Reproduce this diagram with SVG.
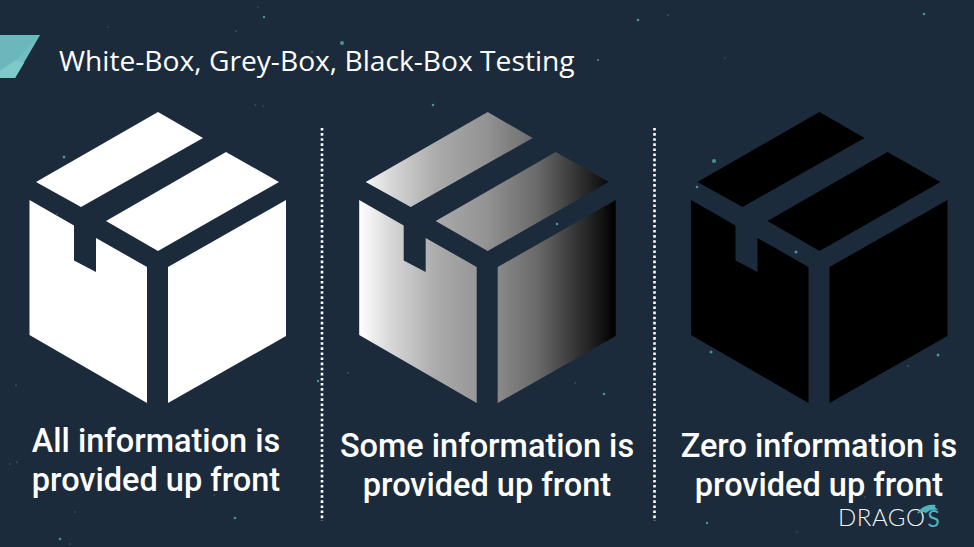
<svg xmlns="http://www.w3.org/2000/svg" width="974" height="547" viewBox="0 0 974 547">
<style>
.t{font-family:"Roboto","Liberation Sans",sans-serif;font-weight:500;font-size:32.5px;fill:#fff;text-anchor:middle}
.title{font-family:"Open Sans","Liberation Sans",sans-serif;font-size:28.200px;fill:#fff}
.d{stroke:#fff;stroke-width:2.6;stroke-dasharray:2.6 2.5;fill:none}
.s{fill:#4f8f98}
.s2{fill:#3c6b77}
</style>
<defs>
<linearGradient id="g" gradientUnits="userSpaceOnUse" x1="29.500" y1="0" x2="286" y2="0">
<stop offset="0" stop-color="#fff"/><stop offset=".12" stop-color="#d8d8d8"/><stop offset=".3" stop-color="#ababab"/><stop offset=".5" stop-color="#929292"/><stop offset=".7" stop-color="#686868"/><stop offset=".85" stop-color="#333"/><stop offset="1" stop-color="#000"/>
</linearGradient>
<g id="box">
<polygon points="158,112 203,138 81,207 36,182"/>
<polygon points="226,152 279,182 158,251 106,221"/>
<polygon points="29.5,200 74,225.500 74,260.500 96,272 96,238 147,267 147,403 29.500,335"/>
<polygon points="168,267 286,200 286,336 168,403"/>
</g>
</defs>
<rect width="974" height="547" fill="#1c2b3b"/>
<g id="stars">
<circle class="s" cx="264" cy="17" r="1.300"/><circle class="s2" cx="258" cy="7" r=".7"/><circle class="s2" cx="236" cy="31" r=".8"/><circle class="s2" cx="108" cy="27" r=".7"/>
<circle class="s" cx="342" cy="43" r="2"/><circle class="s2" cx="312" cy="52" r="1"/><circle class="s" cx="433" cy="105" r="1.300"/><circle class="s" cx="64" cy="157" r="1.500"/>
<circle class="s2" cx="57" cy="214" r=".8"/><circle class="s2" cx="255" cy="105" r=".7"/><circle class="s2" cx="263" cy="106" r=".7"/>
<circle class="s" cx="714" cy="161" r="2"/><circle class="s" cx="557" cy="224" r="1.300"/><circle class="s" cx="796" cy="252" r="1.500"/><circle class="s" cx="697" cy="187" r="1.300"/>
<circle class="s" cx="711" cy="352" r="1.500"/><circle class="s" cx="938" cy="355" r="1.500"/><circle class="s" cx="604" cy="394" r="1.300"/><circle class="s2" cx="575" cy="383" r=".7"/><circle class="s2" cx="348" cy="373" r=".8"/><circle class="s" cx="318" cy="381" r="1.200"/>
<circle class="s" cx="638" cy="20" r="1.300"/><circle class="s" cx="924" cy="14" r="1.300"/><circle class="s2" cx="668" cy="15" r=".8"/><circle class="s" cx="598" cy="60" r="1"/><circle class="s2" cx="725" cy="58" r=".7"/>
<circle class="s2" cx="17" cy="462" r=".8"/><circle class="s2" cx="10" cy="464" r=".7"/><circle class="s" cx="235" cy="518" r="1.300"/><circle class="s" cx="60" cy="539" r="1.300"/><circle class="s2" cx="70" cy="544" r=".7"/><circle class="s2" cx="75" cy="512" r=".7"/><circle class="s2" cx="214" cy="495" r=".7"/>
<circle class="s" cx="707" cy="523" r="1.200"/><circle class="s2" cx="797" cy="532" r=".7"/><circle class="s2" cx="865" cy="497" r=".7"/><circle class="s2" cx="16" cy="385" r=".8"/><circle class="s" cx="269" cy="345" r="1"/><circle class="s2" cx="908" cy="366" r=".8"/>
</g>
<g id="corner">
<polygon points="0,35 40,35 15,78 0,78" fill="#72bfc3"/>
<polygon points="0,35 12,35 16,60 0,71" fill="#6db6bb"/>
<polygon points="12,35 40,35 16,60" fill="#69b8bc"/>
<polygon points="0,71 16,60 24,63 15,78 0,78" fill="#7fc9cb"/>
</g>
<text id="title" class="title" x="59" y="71">White-Box, Grey-Box, Black-Box Testing</text>
<g id="connectors">
<line class="d" x1="322" y1="128" x2="322" y2="521"/>
<line class="d" x1="654.500" y1="128" x2="654.500" y2="521"/>
</g>
<g id="white-box">
<use href="#box" fill="#fff"/>
<text class="t" x="156" y="452">All information is</text>
<text class="t" x="156" y="491">provided up front</text>
</g>
<g id="grey-box">
<use href="#box" x="329.700" fill="url(#g)"/>
<text class="t" x="487" y="457">Some information is</text>
<text class="t" x="487" y="496">provided up front</text>
</g>
<g id="black-box">
<use href="#box" x="661.500" fill="#000"/>
<text class="t" x="819" y="457">Zero information is</text>
<text class="t" x="819" y="496">provided up front</text>
</g>
<g id="logo">
<text x="838" y="526" font-family="Lato,'Liberation Sans',sans-serif" font-size="24" font-weight="300" fill="#f2f5f6" textLength="87" lengthAdjust="spacing">DRAGO</text>
<text x="927.500" y="527" font-family="Lato,'Liberation Sans',sans-serif" font-size="22.500" font-weight="400" fill="#4fb3c0">S</text>
<path d="M917 514C920 508 926 504 936 505C933 507 937 508 938 510C933 509 929 510 926 513C923 511 920 512 917 514Z" fill="#4fb3c0"/>
</g>
</svg>
